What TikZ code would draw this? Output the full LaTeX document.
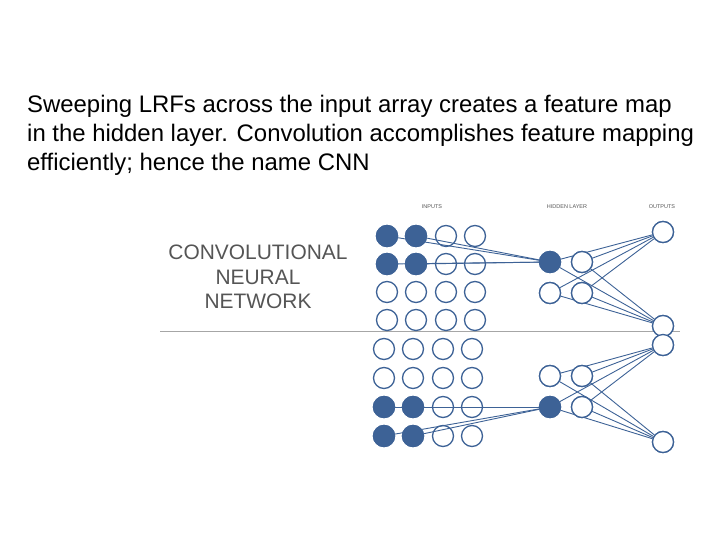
\documentclass[tikz,border=0pt]{standalone}
\usepackage{fontspec}
\setmainfont{Liberation Sans}
\definecolor{netblue}{HTML}{3D6296}
\definecolor{titlegray}{HTML}{555555}
\begin{document}
\begin{tikzpicture}[x=1bp,y=-1bp,
        unit/.style={circle, draw=netblue, line width=1.3bp, minimum size=21bp, inner sep=0pt, fill=white},
        active/.style={unit, fill=netblue},
        wire/.style={netblue, line width=0.9bp},
        tag/.style={font=\fontsize{5.5}{6}\selectfont, text=titlegray},
        para/.style={anchor=base west, inner sep=0pt, font=\fontsize{24}{29}\selectfont}
    ]
    \useasboundingbox (0,0) rectangle (720,540);

    % text
    \node[para] (t1) at (27,113) {Sweeping LRFs across the input array creates a feature map};
    \node[para] (t2) at (27,142) {in the hidden layer.  Convolution accomplishes feature mapping};
    \node[para] (t3) at (27,171) {efficiently; hence the name CNN};

    % title
    \node[align=center, inner sep=0pt, text=titlegray, font=\fontsize{21}{24.5}\selectfont] (ttl) at (258,277)
        {CONVOLUTIONAL\\NEURAL\\NETWORK};

    \node[tag] (lin) at (432,207) {INPUTS};
    \node[tag] (lhid) at (567,207) {HIDDEN LAYER};
    \node[tag] (lout) at (662,207) {OUTPUTS};

    % divider
    \coordinate (dl) at (160,331);
    \coordinate (dr) at (680,331);
    \draw[gray!70, line width=0.8bp] (dl) -- (dr);

    % outputs
    \node[unit] (o1) at (663,232) {};
    \node[unit] (o2) at (663,326) {};
    \node[unit] (o3) at (663,345) {};
    \node[unit] (o4) at (663,442) {};

    % hidden units
    \node[active] (h1) at (550,262) {};
    \node[unit] (h2) at (550,293) {};
    \node[unit] (g1) at (582,262) {};
    \node[unit] (g2) at (582,293) {};
    \node[unit] (h3) at (550,376) {};
    \node[active] (h4) at (550,407) {};
    \node[unit] (g3) at (582,376) {};
    \node[unit] (g4) at (582,407) {};

    % hidden to outputs
    \foreach \h in {h1,h2,g1,g2} {
        \draw[wire] (\h) -- (o1);
        \draw[wire] (\h) -- (o2);
    }
    \foreach \h in {h3,h4,g3,g4} {
        \draw[wire] (\h) -- (o3);
        \draw[wire] (\h) -- (o4);
    }

    % input grids
    \foreach \r/\y in {1/236,2/264,3/292,4/320}
        \foreach \c/\x in {1/387,2/416,3/446,4/475}
            \node[unit] (a\r\c) at (\x,\y) {};
    \foreach \r/\y in {1/349,2/378,3/407,4/436}
        \foreach \c/\x in {1/384,2/413,3/443,4/472}
            \node[unit] (b\r\c) at (\x,\y) {};

    % receptive fields
    \foreach \n in {a11,a12,a21,a22}
        \draw[wire] (\n) -- (h1);
    \foreach \n in {b31,b32,b41,b42}
        \draw[wire] (\n) -- (h4);
    \foreach \n in {a11,a12,a21,a22}
        \node[active] at (\n) {};
    \foreach \n in {b31,b32,b41,b42}
        \node[active] at (\n) {};

    % redraw units over wires
    \foreach \n in {o1,o2,o3,o4,h2,g1,g2,h3,g3,g4}
        \node[unit] at (\n) {};
    \foreach \n in {h1,h4}
        \node[active] at (\n) {};
\end{tikzpicture}
\end{document}
